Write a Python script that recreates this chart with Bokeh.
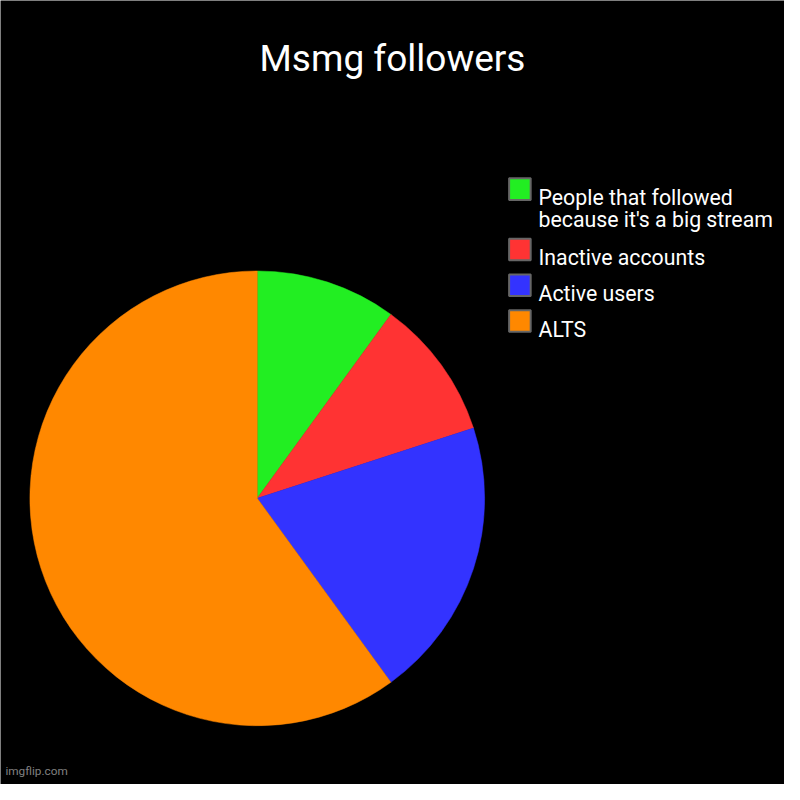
import numpy as np
from bokeh.plotting import figure
from bokeh.models import ColumnDataSource, Range1d
from bokeh.core.properties import value
from bokeh.embed import file_html
from bokeh.resources import INLINE

title = "Msmg followers"
labels = ["People that followed because it's a big stream", "Inactive accounts", "Active users", "ALTS"]
label_lines = [["People that followed", "because it's a big stream"], ["Inactive accounts"], ["Active users"], ["ALTS"]]
values = [10, 10, 20, 60]
colors = ["#22EE22", "#FF3333", "#3333FF", "#FF8800"]
watermark = "imgflip.com"

W = H = 784
K = W / 800.0
FONT = value("Roboto")


def sx(X):
    return X * K


def sy(Y):
    return H - Y * K


p = figure(width=W, height=H, x_range=Range1d(0, W), y_range=Range1d(0, H),
           output_backend="svg", toolbar_location=None,
           background_fill_color="black", border_fill_color="black", min_border=0)
p.axis.visible = False
p.grid.visible = False
p.outline_line_color = None

# pie
vals = np.array(values, dtype=float)
frac = vals / vals.sum()
cum = np.concatenate([[0], np.cumsum(frac)])
start = [np.pi / 2 - cum[i + 1] * 2 * np.pi for i in range(len(values))]
end = [np.pi / 2 - cum[i] * 2 * np.pi for i in range(len(values))]
cx, cy, r = sx(262), sy(508), 232 * K
src = ColumnDataSource(dict(x=[cx] * len(values), y=[cy] * len(values),
                            start=start, end=end, color=colors))
p.wedge(x="x", y="y", radius=r, start_angle="start", end_angle="end",
        fill_color="color", line_color="color", line_width=0.5, source=src)

# title
p.text(x=[sx(400)], y=[sy(59)], text=[title], text_align="center",
       text_baseline="alphabetic", text_font=FONT, text_font_size="37px",
       text_color="white")

# legend
box_y = []
Y = 192.5
for lines in label_lines:
    box_y.append(Y)
    Y += 36.5 + 25 * (len(lines) - 1)
p.rect(x=[sx(530)] * len(labels), y=[sy(v) for v in box_y], width=22 * K, height=22 * K,
       fill_color=colors, line_color="#666666", line_width=2)
tx, ty, tt = [], [], []
for by, lines in zip(box_y, label_lines):
    for j, ln in enumerate(lines):
        tx.append(sx(549))
        ty.append(sy(by + 8.5 + 22.5 * j))
        tt.append(ln)
p.text(x=tx, y=ty, text=tt, text_align="left", text_baseline="alphabetic",
       text_font=FONT, text_font_size="21.3px", text_color="white")

# watermark
p.text(x=[sx(5)], y=[sy(786)], text=[watermark], text_align="left", text_baseline="alphabetic",
       text_font=FONT, text_font_size="11.8px", text_color="#808080")

open("out.html", "w").write(file_html(p, INLINE))
